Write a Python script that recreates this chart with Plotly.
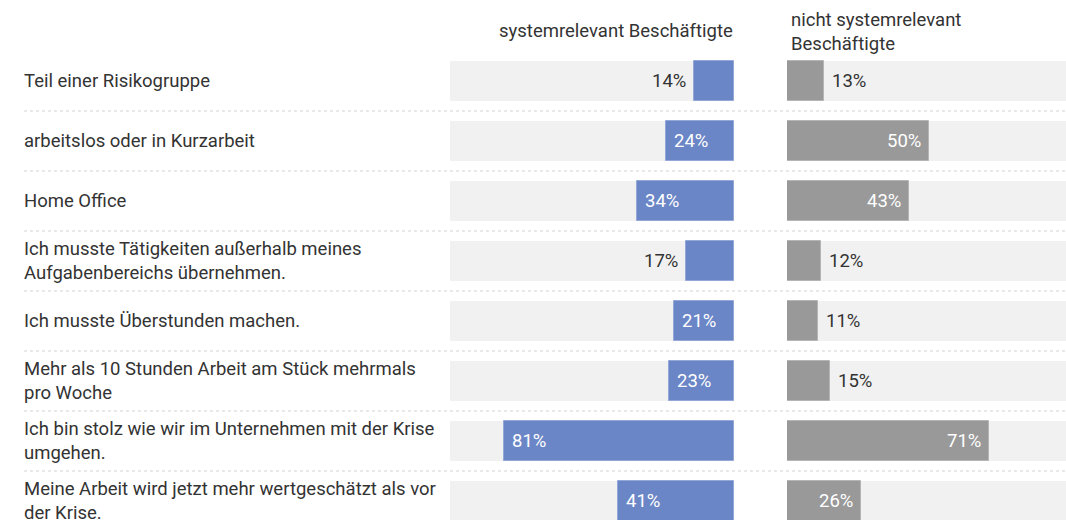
import plotly.graph_objects as go

categories = [
    "Teil einer Risikogruppe",
    "arbeitslos oder in Kurzarbeit",
    "Home Office",
    "Ich musste Tätigkeiten außerhalb meines<br>Aufgabenbereichs übernehmen.",
    "Ich musste Überstunden machen.",
    "Mehr als 10 Stunden Arbeit am Stück mehrmals<br>pro Woche",
    "Ich bin stolz wie wir im Unternehmen mit der Krise<br>umgehen.",
    "Meine Arbeit wird jetzt mehr wertgeschätzt als vor<br>der Krise.",
]
systemrelevant = [14, 24, 34, 17, 21, 23, 81, 41]
nicht_systemrelevant = [13, 50, 43, 12, 11, 15, 71, 26]
header_left = "systemrelevant Beschäftigte"
header_right = "nicht systemrelevant<br>Beschäftigte"

W, H = 1066, 520
OFF = 0  # page body margin removed via post_script
FONT = "Roboto"
FS = 18.5
TEXT = "#333333"
BLUE = "#6b86c6"
GREY = "#999999"
BG = "#f1f1f1"


def px(sx):
    return (sx - OFF) / W


def py(sy):
    return 1 - (sy - OFF) / H


ypos = list(range(len(categories)))
full = [100] * len(categories)

fig = go.Figure()
fig.add_trace(go.Bar(y=ypos, x=full, orientation="h", marker_color=BG, width=0.68,
                     marker_line_width=0,
                     xaxis="x", yaxis="y", hoverinfo="skip", showlegend=False))
fig.add_trace(go.Bar(y=ypos, x=full, orientation="h", marker_color=BG, width=0.68,
                     marker_line_width=0,
                     xaxis="x2", yaxis="y", hoverinfo="skip", showlegend=False))
fig.add_trace(go.Bar(y=ypos, x=systemrelevant, orientation="h", marker_color=BLUE, width=0.68,
                     marker_line=dict(color="#93a7d8", width=1),
                     xaxis="x", yaxis="y", showlegend=False, name=header_left))
fig.add_trace(go.Bar(y=ypos, x=nicht_systemrelevant, orientation="h", marker_color=GREY, width=0.68,
                     marker_line=dict(color="#b5b5b5", width=1),
                     xaxis="x2", yaxis="y", showlegend=False, name="nicht systemrelevant Beschäftigte"))

ann = []
for i, lab in enumerate(categories):
    ann.append(dict(x=px(22), xref="paper", y=i, yref="y", text=lab, showarrow=False,
                    xanchor="left", yanchor="middle", align="left",
                    font=dict(family=FONT, size=FS, color=TEXT)))
for i, v in enumerate(systemrelevant):
    inside = v >= 20
    ann.append(dict(x=v, xref="x", y=i, yref="y", text=f"{v}%", showarrow=False,
                    xanchor="left" if inside else "right", xshift=6 if inside else -6,
                    yanchor="middle",
                    font=dict(family=FONT, size=FS, color="#ffffff" if inside else TEXT)))
for i, v in enumerate(nicht_systemrelevant):
    inside = v >= 20
    ann.append(dict(x=v, xref="x2", y=i, yref="y", text=f"{v}%", showarrow=False,
                    xanchor="right" if inside else "left", xshift=-6 if inside else 6,
                    yanchor="middle",
                    font=dict(family=FONT, size=FS, color="#ffffff" if inside else TEXT)))
ann.append(dict(x=px(735), xref="paper", y=py(31), yref="paper", text=header_left,
                showarrow=False, xanchor="right", yanchor="middle", align="right",
                font=dict(family=FONT, size=FS, color=TEXT)))
ann.append(dict(x=px(789), xref="paper", y=py(32), yref="paper", text=header_right,
                showarrow=False, xanchor="left", yanchor="middle", align="left",
                font=dict(family=FONT, size=FS, color=TEXT)))

shapes = []
for i in range(len(categories) - 1):
    shapes.append(dict(type="line", xref="paper", yref="y", x0=px(24), x1=1, y0=i + 0.5, y1=i + 0.5,
                       line=dict(color="#d2d2d2", width=1, dash="dot"), layer="below"))

row_px = 60.0
top_center = 81.0 - OFF
y_top = -top_center / row_px
y_bottom = (H - top_center) / row_px
px100 = 284.0

fig.update_layout(
    width=W, height=H,
    margin=dict(l=0, r=0, t=0, b=0),
    paper_bgcolor="white", plot_bgcolor="white",
    barmode="overlay",
    bargap=0,
    font=dict(family=FONT, color=TEXT),
    xaxis=dict(domain=[px(450), px(734)], range=[100, 0], visible=False, fixedrange=True),
    xaxis2=dict(domain=[px(787), 1], range=[0, (W + OFF - 787) / px100 * 100], visible=False,
                anchor="y", fixedrange=True),
    yaxis=dict(range=[y_bottom, y_top], visible=False, fixedrange=True),
    annotations=ann,
    shapes=shapes,
)

fig.write_html("out.html", config={"displayModeBar": False},
               post_script="document.body.style.margin='0';document.body.style.overflow='hidden';")
